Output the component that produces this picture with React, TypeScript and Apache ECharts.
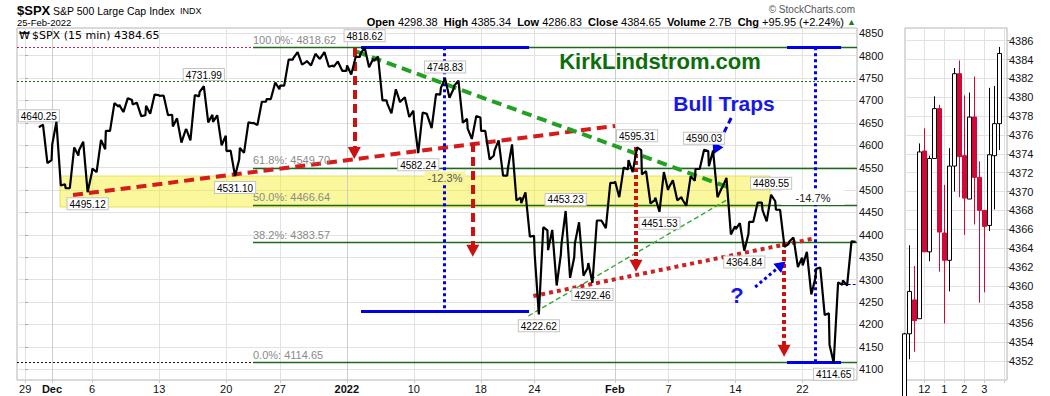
import React, { useEffect, useRef } from 'react';
import * as echarts from 'echarts';

const FONT = '"Liberation Sans", Arial, sans-serif';
const NARROW = '"Liberation Sans Narrow", "Liberation Sans", Arial, sans-serif';
const VERD = '"DejaVu Sans", Verdana, sans-serif';

// ---------- main chart: one summary per session (15-min chart) ----------
// slot 0 = Nov 29 (no data drawn), Nov 30 = slot 1 ...
const dayDates = ['Nov 30', 'Dec 1', 'Dec 2', 'Dec 3', 'Dec 6', 'Dec 7', 'Dec 8', 'Dec 9', 'Dec 10', 'Dec 13', 'Dec 14', 'Dec 15', 'Dec 16', 'Dec 17', 'Dec 20', 'Dec 21', 'Dec 22', 'Dec 23', 'Dec 27', 'Dec 28', 'Dec 29', 'Dec 30', 'Dec 31', 'Jan 3', 'Jan 4', 'Jan 5', 'Jan 6', 'Jan 7', 'Jan 10', 'Jan 11', 'Jan 12', 'Jan 13', 'Jan 14', 'Jan 18', 'Jan 19', 'Jan 20', 'Jan 21', 'Jan 24', 'Jan 25', 'Jan 26', 'Jan 27', 'Jan 28', 'Jan 31', 'Feb 1', 'Feb 2', 'Feb 3', 'Feb 4', 'Feb 7', 'Feb 8', 'Feb 9', 'Feb 10', 'Feb 11', 'Feb 14', 'Feb 15', 'Feb 16', 'Feb 17', 'Feb 18', 'Feb 22', 'Feb 23', 'Feb 24', 'Feb 25'];
const dayOpen = [4640.25, 4602, 4504, 4589, 4548, 4632, 4690, 4691, 4688, 4710, 4642, 4636, 4719, 4652, 4587, 4594, 4650, 4703, 4733, 4795, 4788, 4794, 4775, 4778, 4804, 4788, 4693, 4698, 4655, 4670, 4728, 4733, 4637, 4632, 4588, 4548, 4471, 4356, 4366, 4380, 4381, 4337, 4431, 4519, 4567, 4535, 4483, 4505, 4480, 4547, 4553, 4506, 4413, 4429, 4455, 4456, 4385, 4332, 4324, 4155, 4298.38];
const dayHigh = [4646, 4652, 4595, 4608, 4612, 4694, 4705, 4695, 4713, 4711, 4660, 4712, 4731.99, 4667, 4588, 4651, 4697, 4740, 4791, 4808, 4804, 4808, 4787, 4797, 4818.62, 4798, 4725, 4707, 4673, 4714, 4748.83, 4744, 4665, 4632, 4611, 4602, 4495, 4417, 4411, 4453.23, 4428, 4432, 4516, 4550, 4595.31, 4542, 4540, 4522, 4531, 4590.03, 4588, 4527, 4426, 4472, 4489.55, 4456, 4394, 4362, 4327, 4294, 4385.34];
const dayLow = [4560, 4510, 4504, 4495.12, 4540, 4632, 4674, 4665, 4670, 4667, 4606, 4611, 4651, 4600, 4531.10, 4583, 4645, 4703, 4733, 4780, 4778, 4775, 4766, 4758, 4774, 4700, 4671, 4663, 4582.24, 4638, 4706, 4650, 4614, 4568, 4532, 4477, 4396, 4222.62, 4287, 4304, 4309, 4292.46, 4415, 4484, 4540, 4470, 4451.53, 4477, 4465, 4547, 4484, 4401, 4364.84, 4429, 4430, 4373, 4328, 4267, 4221, 4114.65, 4286.83];
const dayClose = [4567, 4513, 4577, 4538, 4591, 4686, 4701, 4667, 4712, 4668, 4634, 4709, 4668, 4621, 4568, 4649, 4697, 4725, 4791, 4786, 4793, 4778, 4766, 4797, 4793, 4700, 4696, 4677, 4670, 4713, 4726, 4659, 4662, 4577, 4532, 4483, 4398, 4410, 4356, 4350, 4326, 4432, 4516, 4546, 4589, 4477, 4500, 4484, 4521, 4587, 4504, 4419, 4402, 4472, 4475, 4380, 4349, 4304, 4225, 4288.70, 4384.65];
const firstSlot = 1;
const sessionSteps = [0.02, 0.33, 0.66, 0.97];

const xTickSlots = [0, 2, 5, 10, 15, 19, 24, 29, 34, 38, 44, 48, 53, 58];
const xTickLabels = ['29', 'Dec', '6', '13', '20', '27', '2022', '10', '18', '24', 'Feb', '7', '14', '22'];
const boldTickLabels = ['Dec', '2022', 'Feb'];
const monthSlots = [2, 24, 44];
const yTicks = [4100, 4150, 4200, 4250, 4300, 4350, 4400, 4450, 4500, 4550, 4600, 4650, 4700, 4750, 4800, 4850];

const fibNames = ['100.0%', '61.8%', '50.0%', '38.2%', '0.0%'];
const fibValues = [4818.62, 4549.70, 4466.64, 4383.57, 4114.65];
const fibStartSlot = 17.0;
const dottedLevel = 4742;
const prevClose = 4288.70;

const labelledPoints: [string, 'O' | 'H' | 'L', 'top' | 'bottom'][] = [
  ['Nov 30', 'O', 'top'], ['Dec 16', 'H', 'top'], ['Dec 3', 'L', 'bottom'], ['Dec 20', 'L', 'bottom'],
  ['Jan 4', 'H', 'top'], ['Jan 12', 'H', 'top'], ['Jan 10', 'L', 'bottom'], ['Jan 26', 'H', 'top'],
  ['Jan 24', 'L', 'bottom'], ['Jan 28', 'L', 'bottom'], ['Feb 2', 'H', 'top'], ['Feb 4', 'L', 'bottom'],
  ['Feb 9', 'H', 'top'], ['Feb 16', 'H', 'top'], ['Feb 14', 'L', 'bottom'], ['Feb 24', 'L', 'bottom'],
];

// annotation lines (data coordinates: [slot, price])
const supportLine = [[3.57, 4488.9], [44.02, 4642.9]];
const resistanceLine = [[24.74, 4808.7], [52.35, 4507.4]];
const thinGreenLine = [[37.55, 4218.9], [52.35, 4477.8]];
const redDottedLine = [[37.92, 4263.5], [58.94, 4392.3]];
const dashedDropArrows = [[[24.56, 4817], [24.56, 4582.6]], [[33.40, 4604.9], [33.40, 4364.6]]];
const dottedDropArrows = [[[45.58, 4596], [45.58, 4331.1]], [[56.63, 4381.8], [56.63, 4141.4]]];
const bullTrapArrow = [[52.68, 4660.8], [51.52, 4590.2]];
const questionArrow = [[54.47, 4283.6], [56.43, 4332.9]];
const leftDrop = { x1: 25.06, x2: 37.6, xv: 31.28, top: 4818.62, bottom: 4230 };
const rightDrop = { x1: 56.85, x2: 60.88, xv: 58.94, top: 4818.62, bottom: 4114.65 };
const yellowBand = [[2.6, 4531.3], [55.58, 4462.1]];

// ---------- right panel: last session, 15-min candles ----------
const iTimes = ['11:00', '11:15', '11:30', '11:45', '12:00', '12:15', '12:30', '12:45', '13:00', '13:15', '13:30', '13:45', '14:00', '14:15', '14:30', '14:45', '15:00', '15:15', '15:30', '15:45'];
const iOpen = [4348, 4354.9, 4358.5, 4356.5, 4374.3, 4363.6, 4373.5, 4378.8, 4365.6, 4362.7, 4372.7, 4382.5, 4373.8, 4369.2, 4377.9, 4371.5, 4368.0, 4366.4, 4373.8, 4377.2];
const iClose = [4354.9, 4359.4, 4356.3, 4374.2, 4363.6, 4373.5, 4378.8, 4365.7, 4362.7, 4372.7, 4382.5, 4373.7, 4369.3, 4377.9, 4371.5, 4368.0, 4366.3, 4373.9, 4377.2, 4384.65];
const iLow = [4347, 4352.2, 4353.0, 4356.5, 4363.6, 4362.6, 4373.5, 4361.5, 4356.0, 4359.4, 4370.0, 4369.4, 4365.4, 4369.2, 4366.5, 4358.2, 4359.3, 4365.8, 4368.1, 4374.4];
const iHigh = [4355.0, 4364.3, 4362.1, 4375.1, 4376.7, 4373.8, 4380.1, 4379.2, 4370.7, 4374.6, 4383.1, 4383.9, 4380.2, 4380.5, 4382.2, 4373.2, 4368.0, 4381.0, 4381.2, 4385.34];
const iTickSlots = [4, 8, 12, 16, 20];
const iTickLabels = ['12', '1', '2', '3', ''];
const iYTicks = [4352, 4354, 4356, 4358, 4360, 4362, 4364, 4366, 4368, 4370, 4372, 4374, 4376, 4378, 4380, 4382, 4384, 4386];

// ---------- derived ----------
function sessionSeq(i: number) {
  const up = dayClose[i] >= dayOpen[i];
  return up
    ? [dayOpen[i], dayLow[i], dayHigh[i], dayClose[i]]
    : [dayOpen[i], dayHigh[i], dayLow[i], dayClose[i]];
}
const priceLine: number[][] = [];
dayDates.forEach((_, i) => {
  const slot = i + firstSlot;
  sessionSeq(i).forEach((v, k) => priceLine.push([slot + sessionSteps[k], v]));
});
function pointOf(date: string, kind: 'O' | 'H' | 'L') {
  const i = dayDates.indexOf(date);
  const slot = i + firstSlot;
  const up = dayClose[i] >= dayOpen[i];
  if (kind === 'O') return [slot + sessionSteps[0], dayOpen[i]];
  if (kind === 'H') return [slot + sessionSteps[up ? 2 : 1], dayHigh[i]];
  return [slot + sessionSteps[up ? 1 : 2], dayLow[i]];
}

const X_MIN = -0.61, X_MAX = 62.07, Y_MIN = 4076.1, Y_MAX = 4861.6;
const GRID_W = 840, GRID_H = 352;

const RED = '#cc1111';
const FIBGREEN = '#1b6a1b';
const BLUE = '#0000e8';

function seg(a: number[], b: number[], lineStyle: any) {
  return [{ coord: a, lineStyle }, { coord: b }];
}
// screen-space heading of an arrow, for the triangle head's rotation
function headRotation(a: number[], b: number[]) {
  const sx = (b[0] - a[0]) * (GRID_W / (X_MAX - X_MIN));
  const sy = -(b[1] - a[1]) * (GRID_H / (Y_MAX - Y_MIN));
  return (Math.atan2(-sy, sx) * 180) / Math.PI - 90;
}

function buildOption(): any {
  const fibLines = fibValues.map((v, i) => [
    { coord: [fibStartSlot, v], name: `${fibNames[i]}: ${v.toFixed(2)}`, lineStyle: { color: FIBGREEN, width: 1.3, type: 'solid' } },
    { coord: [X_MAX, v] },
  ]);
  const plainLines = [
    seg([X_MIN, fibValues[0]], [fibStartSlot, fibValues[0]], { color: '#c8204a', width: 1.2, type: [2, 2] }),
    seg([X_MIN, fibValues[4]], [fibStartSlot, fibValues[4]], { color: '#111', width: 1.2, type: [2, 2] }),
    seg([X_MIN, dottedLevel], [X_MAX, dottedLevel], { color: '#1b6a1b', width: 1.2, type: [2, 2] }),
    ...monthSlots.map((s) => seg([s, Y_MIN], [s, Y_MAX], { color: '#cdcdcd', width: 1, type: 'solid' })),
  ];
  const trendLines = [
    seg(supportLine[0], supportLine[1], { color: '#d41c1c', width: 4, type: [10, 6] }),
    seg(resistanceLine[0], resistanceLine[1], { color: '#22a022', width: 4, type: [10, 6] }),
    seg(thinGreenLine[0], thinGreenLine[1], { color: '#33a833', width: 1.4, type: [5, 3] }),
    seg(redDottedLine[0], redDottedLine[1], { color: '#cc2222', width: 4, type: [4, 4] }),
    seg([leftDrop.x1, leftDrop.top], [leftDrop.x2, leftDrop.top], { color: BLUE, width: 3, type: 'solid' }),
    seg([leftDrop.x1, leftDrop.bottom], [leftDrop.x2, leftDrop.bottom], { color: BLUE, width: 3, type: 'solid' }),
    seg([leftDrop.xv, leftDrop.top], [leftDrop.xv, leftDrop.bottom], { color: BLUE, width: 3, type: [3, 3] }),
    seg([rightDrop.x1, rightDrop.top], [rightDrop.x2, rightDrop.top], { color: BLUE, width: 3, type: 'solid' }),
    seg([rightDrop.x1, rightDrop.bottom], [rightDrop.x2, rightDrop.bottom], { color: BLUE, width: 3, type: 'solid' }),
    seg([rightDrop.xv, rightDrop.top], [rightDrop.xv, rightDrop.bottom], { color: BLUE, width: 3, type: [3, 3] }),
    seg([firstSlot + dayDates.length - 1, prevClose], [X_MAX, prevClose], { color: BLUE, width: 1, type: [3, 2] }),
    ...dashedDropArrows.map((a) => seg(a[0], a[1], { color: RED, width: 4, type: [9, 5] })),
    ...dottedDropArrows.map((a) => seg(a[0], a[1], { color: RED, width: 4, type: [4, 3] })),
    seg(bullTrapArrow[0], bullTrapArrow[1], { color: BLUE, width: 3, type: [6, 4] }),
    seg(questionArrow[0], questionArrow[1], { color: BLUE, width: 3, type: [3, 3] }),
  ];
  const heads = [
    ...[...dashedDropArrows, ...dottedDropArrows].map((a) => ({
      coord: a[1], symbolRotate: headRotation(a[0], a[1]), itemStyle: { color: RED }, symbolSize: [13, 12],
    })),
    ...[bullTrapArrow, questionArrow].map((a) => ({
      coord: a[1], symbolRotate: headRotation(a[0], a[1]), itemStyle: { color: BLUE }, symbolSize: [12, 11],
    })),
  ];

  const markPts = labelledPoints.map(([d, k, pos]) => {
    const c = pointOf(d, k);
    return { coord: c, value: c[1], label: { position: pos } };
  });

  const candleData = iOpen.map((o, i) => [i, o, iClose[i], iLow[i], iHigh[i]]);

  const hdr = (text: string, x: number, y: number, font: string, fill = '#000', align = 'left', extra: any = {}) => ({
    type: 'text', x, y, z: 50, silent: true,
    style: { text, font, fill, align, verticalAlign: 'middle', ...extra },
  });

  return {
    animation: false,
    backgroundColor: '#fff',
    grid: [
      { left: 17, top: 28, width: GRID_W, height: GRID_H, show: true, borderColor: '#b4b4b4', borderWidth: 1 },
      { left: 905, top: 28, width: 102, height: 352, show: true, borderColor: '#b4b4b4', borderWidth: 1 },
    ],
    xAxis: [
      {
        type: 'value', gridIndex: 0, min: X_MIN, max: X_MAX,
        axisLine: { show: false },
        axisTick: { show: true, length: 3, lineStyle: { color: '#c8c8c8' }, customValues: xTickSlots },
        axisLabel: {
          customValues: xTickSlots, margin: 3, fontSize: 11, fontFamily: NARROW, color: '#111',
          formatter: (v: number) => {
            const t = xTickLabels[xTickSlots.indexOf(v)] ?? '';
            return boldTickLabels.includes(t) ? `{b|${t}}` : t;
          },
          rich: { b: { fontWeight: 'bold', fontSize: 11, fontFamily: NARROW, color: '#111' } },
        },
        splitLine: { show: true, lineStyle: { color: '#e2e2e2', width: 1 } },
      },
      {
        type: 'value', gridIndex: 1, min: 0.14, max: 20.54,
        axisLine: { show: false },
        axisTick: { show: true, length: 3, lineStyle: { color: '#c8c8c8' }, customValues: iTickSlots },
        axisLabel: {
          customValues: iTickSlots, margin: 3, fontSize: 11, fontFamily: NARROW, color: '#111',
          formatter: (v: number) => iTickLabels[iTickSlots.indexOf(v)] ?? '',
        },
        splitLine: { show: true, lineStyle: { color: '#e2e2e2', width: 1 } },
      },
    ],
    yAxis: [
      {
        type: 'value', gridIndex: 0, position: 'right', min: Y_MIN, max: Y_MAX,
        axisLine: { show: false },
        axisTick: { show: true, length: 3, lineStyle: { color: '#aaa' }, customValues: yTicks },
        axisLabel: { customValues: yTicks, margin: 2, fontSize: 11, fontFamily: FONT, color: '#111', formatter: (v: number) => String(v) },
        splitLine: { show: true, lineStyle: { color: '#e2e2e2', width: 1 } },
      },
      {
        type: 'value', gridIndex: 1, position: 'right', min: 4350, max: 4387.35,
        axisLine: { show: false },
        axisTick: { show: true, length: 3, lineStyle: { color: '#aaa' }, customValues: iYTicks },
        axisLabel: { customValues: iYTicks, margin: 2, fontSize: 11, fontFamily: FONT, color: '#111', formatter: (v: number) => String(v) },
        splitLine: { show: true, lineStyle: { color: '#e2e2e2', width: 1 } },
      },
    ],
    series: [
      {
        type: 'line', name: 'levels', data: [], xAxisIndex: 0, yAxisIndex: 0, z: 2, silent: true,
        markLine: {
          silent: true, animation: false, symbol: ['none', 'none'],
          label: { show: false },
          data: plainLines,
        },
      },
      {
        type: 'line', name: 'fib', data: [], xAxisIndex: 0, yAxisIndex: 0, z: 3, silent: true,
        markLine: {
          silent: true, animation: false, symbol: ['none', 'none'],
          label: { show: true, position: 'insideStartTop', formatter: '{b}', color: '#8a8a8a', fontSize: 11, fontFamily: FONT, distance: [0, 2] },
          data: fibLines,
        },
      },
      {
        type: 'line', name: 'SPX', data: priceLine, xAxisIndex: 0, yAxisIndex: 0, z: 5,
        showSymbol: false, symbol: 'none', silent: true,
        lineStyle: { color: '#000', width: 2.2 },
        markPoint: {
          silent: true, animation: false, symbol: 'circle', symbolSize: 2,
          itemStyle: { color: 'transparent' },
          label: {
            show: true, distance: 5, formatter: (p: any) => Number(p.value).toFixed(2),
            backgroundColor: '#fff', borderColor: '#c4c4c4', borderWidth: 1, padding: [1, 2, 0, 2],
            fontSize: 10, fontFamily: NARROW, color: '#000',
          },
          data: markPts,
        },
      },
      {
        type: 'line', name: 'trend', data: [], xAxisIndex: 0, yAxisIndex: 0, z: 6, silent: true,
        markLine: { silent: true, animation: false, symbol: ['none', 'none'], label: { show: false }, data: trendLines },
        markPoint: { silent: true, animation: false, symbol: 'triangle', label: { show: false }, data: heads },
      },
      {
        type: 'line', name: 'band', data: [], xAxisIndex: 0, yAxisIndex: 0, z: 8, silent: true,
        markArea: {
          silent: true,
          itemStyle: { color: 'rgba(242,236,20,0.42)', borderColor: 'rgba(225,215,60,0.75)', borderWidth: 1 },
          data: [[{ coord: yellowBand[0] }, { coord: yellowBand[1] }]],
        },
      },
      {
        type: 'candlestick', name: 'intraday', xAxisIndex: 1, yAxisIndex: 1, z: 5,
        data: candleData, encode: { x: 0, y: [1, 2, 3, 4] }, barWidth: 4, clip: true,
        itemStyle: { color: '#fff', color0: '#d10838', borderColor: '#000', borderColor0: '#d10838', borderWidth: 1 },
      },
    ],
    graphic: [
      hdr('$SPX', 17, 10, `bold 13px ${FONT}`),
      hdr('S&P 500 Large Cap Index', 53, 10.5, `10.5px ${FONT}`),
      hdr('INDX', 180, 10.5, `9px ${FONT}`),
      hdr('25-Feb-2022', 17, 22.5, `9.5px ${FONT}`),
      hdr('\u00A9 StockCharts.com', 855, 9, `10px ${FONT}`, '#555', 'right'),
      {
        type: 'text', x: 856, y: 22, z: 50, silent: true,
        style: {
          text: '{b|Open} 4298.38  {b|High} 4385.34  {b|Low} 4286.83  {b|Close} 4384.65  {b|Volume} 2.7B  {b|Chg} +95.95 (+2.24%) {g|\u25B2}',
          font: `11px ${FONT}`, fill: '#000', align: 'right', verticalAlign: 'middle',
          rich: {
            b: { font: `bold 11px ${FONT}`, fill: '#000' },
            g: { font: `9px ${FONT}`, fill: '#1e7a1e' },
          },
        },
      },
      hdr('\u20A9', 19, 35.5, `11px ${VERD}`, '#000'),
      hdr('$SPX (15 min) 4384.65', 32, 35.5, `11px ${VERD}`, '#000'),
      hdr('KirkLindstrom.com', 660, 61, `bold 22px ${FONT}`, '#0b6e0b', 'center'),
      hdr('Bull Traps', 724, 103, `bold 21px ${FONT}`, '#1717e8', 'center'),
      hdr('?', 737, 295, `bold 22px ${FONT}`, '#1717e8', 'center'),
      hdr('-12.3%', 445, 178, `11px ${FONT}`, '#555', 'center', { backgroundColor: '#f8f59c', padding: [1, 3] }),
      hdr('-14.7%', 813, 197.5, `11px ${FONT}`, '#222', 'center', { backgroundColor: '#fff', padding: [2, 14] }),
    ],
  };
}

export default function App() {
  const ref = useRef<HTMLDivElement>(null);
  useEffect(() => {
    document.body.style.margin = '0';
    const chart = echarts.init(ref.current!, null, { renderer: 'svg' });
    chart.setOption(buildOption());
    return () => chart.dispose();
  }, []);
  return <div ref={ref} style={{ width: 1050, height: 396, background: '#fff' }} />;
}
